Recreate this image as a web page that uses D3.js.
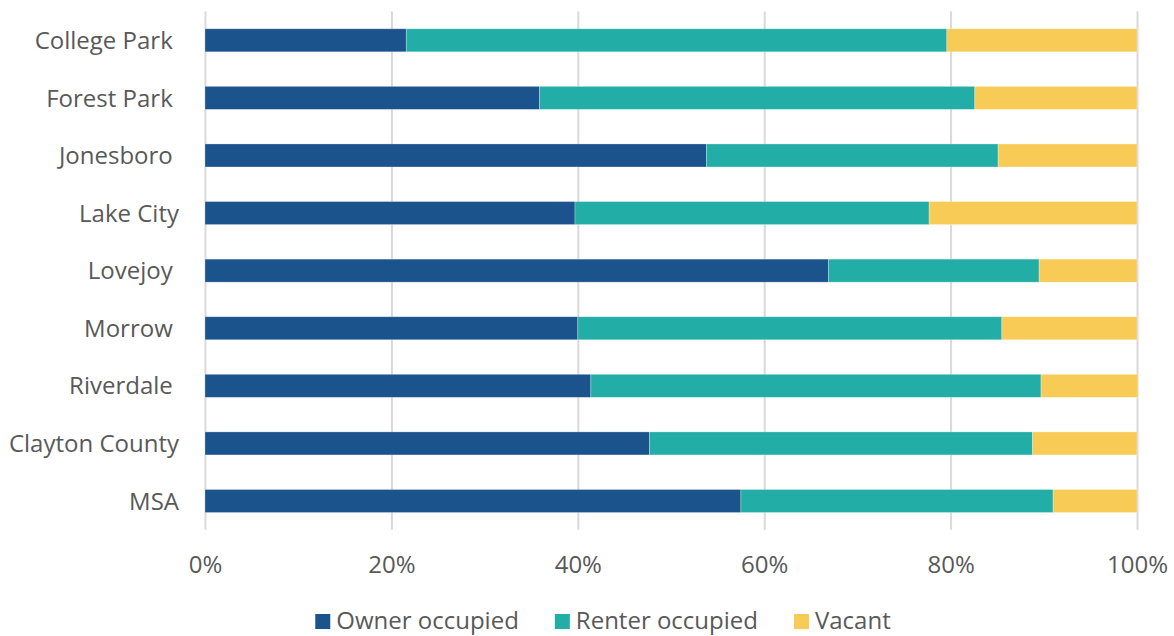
<!DOCTYPE html>
<html>
<head>
<meta charset="utf-8">
<script src="https://cdn.jsdelivr.net/npm/d3@7"></script>
<style>
  html, body { margin: 0; padding: 0; background: #fff; }
  svg { display: block; }
  text { font-family: "Open Sans", "Noto Sans", sans-serif; fill: #595959; }
</style>
</head>
<body>
<svg id="chart" width="1174" height="636"></svg>
<script>
const categories = ["College Park ", "Forest Park ", "Jonesboro ", "Lake City", "Lovejoy ", "Morrow ", "Riverdale ", "Clayton County", "MSA"];
const ownerOccupied = [21.6, 35.9, 53.8, 39.7, 66.9, 40.0, 41.4, 47.7, 57.5];
const renterOccupied = [58.0, 46.7, 31.3, 38.0, 22.6, 45.5, 48.3, 41.1, 33.5];
const vacant = [20.4, 17.4, 14.9, 22.3, 10.5, 14.5, 10.4, 11.2, 9.0];
const seriesNames = ["Owner occupied", "Renter occupied", "Vacant"];
const seriesColors = ["#1b538c", "#22aea6", "#f8cb57"];
const tickValues = [0, 20, 40, 60, 80, 100];
const tickLabels = ["0%", "20%", "40%", "60%", "80%", "100%"];

const rows = categories.map((c, i) => ({
  category: c,
  "Owner occupied": ownerOccupied[i],
  "Renter occupied": renterOccupied[i],
  "Vacant": vacant[i]
}));

const svg = d3.select("#chart");
const plotTop = 11.5, plotBottom = 529.8, plotLeft = 205, plotRight = 1137;

const x = d3.scaleLinear().domain([0, 100]).range([plotLeft, plotRight]);
const y = d3.scaleBand().domain(categories).range([plotTop, plotBottom])
  .paddingInner(0.6).paddingOuter(0.3);
const color = d3.scaleOrdinal().domain(seriesNames).range(seriesColors);

// gridlines + x tick labels
const xAxis = svg.append("g")
  .attr("transform", `translate(0,${plotBottom})`)
  .call(d3.axisBottom(x).tickValues(tickValues)
    .tickFormat((d, i) => tickLabels[i])
    .tickSize(-(plotBottom - plotTop)));
xAxis.select(".domain").remove();
xAxis.selectAll(".tick line").attr("stroke", "#d9d9d9").attr("stroke-width", 2);
xAxis.selectAll(".tick text")
  .attr("y", 43).attr("dy", 0)
  .style("font-size", "24px").style("fill", "#595959");

// bars
const stacked = d3.stack().keys(seriesNames)(rows);
svg.append("g").selectAll("g")
  .data(stacked).join("g")
  .attr("fill", d => color(d.key))
  .selectAll("rect")
  .data(d => d).join("rect")
  .attr("x", d => x(d[0]))
  .attr("width", d => x(d[1]) - x(d[0]))
  .attr("y", d => y(d.data.category))
  .attr("height", y.bandwidth())
  .attr("stroke", "#ffffff").attr("stroke-opacity", 0.35).attr("stroke-width", 0.8);

// category axis
const yAxis = svg.append("g")
  .attr("transform", `translate(${plotLeft},0)`)
  .call(d3.axisLeft(y).tickSize(0).tickPadding(26));
yAxis.select(".domain").remove();
yAxis.selectAll(".tick text")
  .style("font-size", "24px").style("fill", "#595959")
  .style("white-space", "pre").attr("dy", "0.36em");

// legend
const legend = svg.append("g");
const items = legend.selectAll("g").data(seriesNames).join("g");
items.append("rect").attr("width", 15).attr("height", 15).attr("y", -15)
  .attr("fill", d => color(d));
items.append("text").attr("x", 21).attr("y", 0).attr("dy", "0")
  .style("font-size", "24px").text(d => d);
let cx = 0;
items.each(function () {
  const g = d3.select(this);
  const w = 21 + g.select("text").node().getComputedTextLength();
  g.attr("transform", `translate(${cx},0)`);
  cx += w + 36;
});
const total = cx - 36;
legend.attr("transform", `translate(${603 - total / 2},629)`);
</script>
</body>
</html>
